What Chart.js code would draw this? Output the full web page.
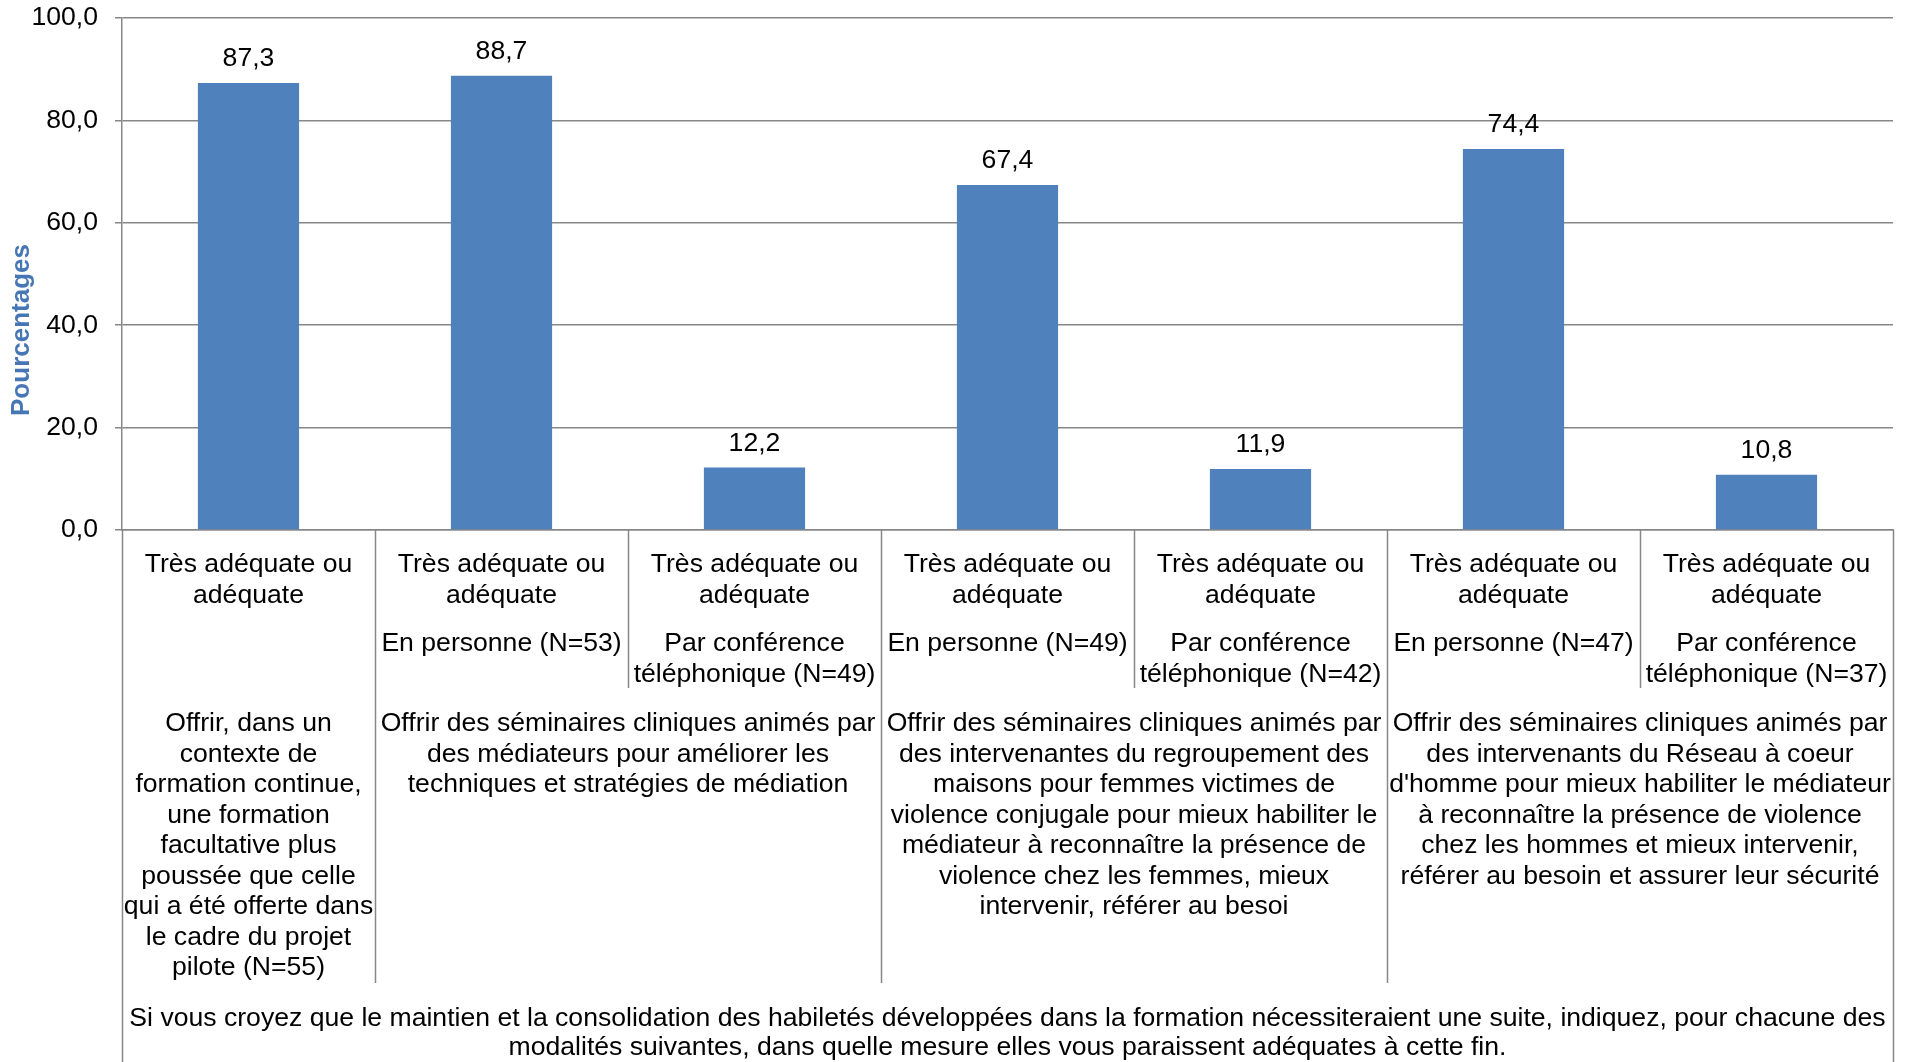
<!DOCTYPE html>
<html>
<head>
<meta charset="utf-8">
<script src="https://cdn.jsdelivr.net/npm/chart.js@4.4.1/dist/chart.umd.min.js"></script>
<style>
  html, body { margin: 0; padding: 0; background: #fff; }
  #wrap { width: 1908px; height: 1062px; }
</style>
</head>
<body>
<div id="wrap"><canvas id="suite_chart" width="1908" height="1062"></canvas></div>
<script>
  // donnees
  const niveaux = [
    ['Très adéquate ou', 'adéquate'],
    ['Très adéquate ou', 'adéquate'],
    ['Très adéquate ou', 'adéquate'],
    ['Très adéquate ou', 'adéquate'],
    ['Très adéquate ou', 'adéquate'],
    ['Très adéquate ou', 'adéquate'],
    ['Très adéquate ou', 'adéquate']
  ];
  const modalites = [
    [],
    ['En personne (N=53)'],
    ['Par conférence', 'téléphonique (N=49)'],
    ['En personne (N=49)'],
    ['Par conférence', 'téléphonique (N=42)'],
    ['En personne (N=47)'],
    ['Par conférence', 'téléphonique (N=37)']
  ];
  const groupes = [
    ['Offrir, dans un', 'contexte de', 'formation continue,', 'une formation', 'facultative plus',
     'poussée que celle', 'qui a été offerte dans', 'le cadre du projet', 'pilote (N=55)'],
    ['Offrir des séminaires cliniques animés par', 'des médiateurs pour améliorer les',
     'techniques et stratégies de médiation'],
    ['Offrir des séminaires cliniques animés par', 'des intervenantes du regroupement des',
     'maisons pour femmes victimes de', 'violence conjugale pour mieux habiliter le',
     'médiateur à reconnaître la présence de', 'violence chez les femmes, mieux',
     'intervenir, référer au besoi'],
    ['Offrir des séminaires cliniques animés par', 'des intervenants du Réseau à coeur',
     "d'homme pour mieux habiliter le médiateur", 'à reconnaître la présence de violence',
     'chez les hommes et mieux intervenir,', 'référer au besoin et assurer leur sécurité']
  ];
  const groupeTailles = [1, 2, 2, 2];
  const question = [
    'Si vous croyez que le maintien et la consolidation des habiletés développées dans la formation nécessiteraient une suite, indiquez, pour chacune des',
    'modalités suivantes, dans quelle mesure elles vous paraissent adéquates à cette fin.'
  ];
  const pourcentages = [87.3, 88.7, 12.2, 67.4, 11.9, 74.4, 10.8];

  const police = '"Liberation Sans", Arial, sans-serif';
  const gris = '#878787';

  function virgule(v) {
    return v.toFixed(1).replace('.', ',');
  }

  function ligneV(ctx, x, y1, y2) {
    ctx.beginPath();
    ctx.moveTo(x, y1);
    ctx.lineTo(x, y2);
    ctx.stroke();
  }

  function lignesTexte(ctx, lignes, x, y, pas) {
    lignes.forEach(function(t, k) {
      ctx.fillText(t, x, y + k * pas);
    });
  }

  // etiquettes hierarchiques, valeurs et titre
  const axeMulti = {
    id: 'axeMulti',
    afterDraw: function(chart) {
      const ctx = chart.ctx;
      const xs = chart.scales.x;
      const area = chart.chartArea;
      const bas = area.bottom;
      const n = pourcentages.length;
      const pas = 30.5;

      ctx.save();
      ctx.font = '26.6px ' + police;
      ctx.fillStyle = '#000';
      ctx.textAlign = 'center';
      ctx.textBaseline = 'middle';

      // valeurs au-dessus des barres
      chart.getDatasetMeta(0).data.forEach(function(bar, i) {
        ctx.fillText(virgule(pourcentages[i]), bar.x, bar.y - 24);
      });

      // niveau 1 et 2
      for (let i = 0; i < n; i++) {
        const cx = xs.getPixelForValue(i);
        lignesTexte(ctx, niveaux[i], cx, bas + 35, 31);
        lignesTexte(ctx, modalites[i], cx, bas + 114, 31);
      }

      // groupes
      let debut = 0;
      const frontieresGroupe = [];
      groupeTailles.forEach(function(taille, g) {
        const x1 = xs.getPixelForValue(debut - 0.5);
        const x2 = xs.getPixelForValue(debut + taille - 0.5);
        lignesTexte(ctx, groupes[g], (x1 + x2) / 2, bas + 194, pas);
        debut += taille;
        frontieresGroupe.push(debut);
      });

      // question
      const xg = xs.getPixelForValue(-0.5);
      const xd = xs.getPixelForValue(n - 0.5);
      lignesTexte(ctx, question, (xg + xd) / 2, bas + 489, 29);

      // separateurs
      ctx.strokeStyle = gris;
      ctx.lineWidth = 1.5;
      for (let i = 0; i <= n; i++) {
        const xb = Math.round(xs.getPixelForValue(i - 0.5)) + 0.5;
        let fin = bas + 158;
        if (i === 0 || i === n) {
          fin = chart.height;
        } else if (frontieresGroupe.indexOf(i) >= 0) {
          fin = bas + 453;
        }
        ligneV(ctx, xb, bas, fin);
      }

      // titre de l'axe
      ctx.translate(22, 330);
      ctx.rotate(-Math.PI / 2);
      ctx.font = 'bold 26px ' + police;
      ctx.fillStyle = '#4677b4';
      ctx.fillText('Pourcentages', 0, 0);
      ctx.restore();
    }
  };

  function prepareChart() {
    const data = {
      labels: niveaux,
      datasets: [{
        label: 'Pourcentages',
        data: pourcentages,
        backgroundColor: '#4f81bd',
        borderWidth: 0,
        barPercentage: 0.4,
        categoryPercentage: 1.0
      }]
    };

    const config = {
      type: 'bar',
      data: data,
      options: {
        responsive: false,
        animation: false,
        layout: { padding: { top: 18, right: 15, left: 0, bottom: 0 } },
        plugins: {
          legend: { display: false },
          tooltip: { enabled: false }
        },
        scales: {
          x: {
            ticks: { display: false },
            grid: { display: false },
            border: { display: true, color: gris, width: 1.5 },
            afterFit: function(scale) {
              scale.height = 532;
              scale.paddingLeft = 0;
              scale.paddingRight = 0;
            }
          },
          y: {
            min: 0,
            max: 100,
            ticks: {
              stepSize: 20,
              padding: 17,
              color: '#000',
              font: { family: police, size: 26.6 },
              callback: function(v) { return virgule(v); }
            },
            grid: { color: gris, lineWidth: 1.5, tickLength: 7 },
            border: { display: true, color: gris, width: 1.5 },
            afterFit: function(scale) {
              scale.width = 122;
              scale.paddingTop = 0;
              scale.paddingBottom = 0;
            }
          }
        }
      },
      plugins: [axeMulti]
    };
    return config;
  }

  function drawChart(myconfig) {
    var myChart = new Chart(document.getElementById('suite_chart'), myconfig);
  }

  drawChart(prepareChart());
</script>
</body>
</html>
